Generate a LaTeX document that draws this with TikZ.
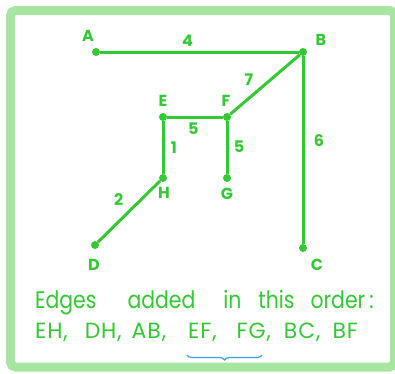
\documentclass[tikz,border=0pt]{standalone}
\usepackage{fontspec}
\setmainfont{Poppins}
\newfontfamily\titlefont[FakeStretch=0.85]{Poppins}
\newfontfamily\listfont[LetterSpace=4]{Poppins}
\usetikzlibrary{decorations.pathreplacing}
\definecolor{mstgreen}{HTML}{33C933}
\definecolor{framegreen}{HTML}{A6E6A0}
\definecolor{braceblue}{HTML}{3A9EE8}
\tikzset{
  vertex/.style={circle, fill=mstgreen, inner sep=0pt, minimum size=8pt},
  vname/.style={font=\bfseries\fontsize{16}{16}\selectfont, text=mstgreen},
  weight/.style={font=\bfseries\fontsize{16}{16}\selectfont, text=mstgreen},
  edge/.style={draw=mstgreen, line width=3pt},
  order/.style={text=mstgreen, anchor=base west, inner sep=0pt}
}
\begin{document}
\begin{tikzpicture}[x=1pt, y=-1pt]
    \useasboundingbox (0,0) rectangle (395,373);
    % Frame
    \begin{scope}
      \clip (0,0) rectangle (395,373);
      \draw[framegreen, line width=9pt, rounded corners=5pt] (10.5,10.5) rectangle (394.5,367);
    \end{scope}
    % Vertices
    \node[vertex] (A) at (96,52) {};
    \node[vertex] (B) at (303,52) {};
    \node[vertex] (E) at (163,117) {};
    \node[vertex] (F) at (227,117) {};
    \node[vertex] (H) at (163,178) {};
    \node[vertex] (G) at (227,178) {};
    \node[vertex] (D) at (95,245) {};
    \node[vertex] (C) at (303,248) {};
    % Vertex names
    \node[vname] (nA) at (88,36) {A};
    \node[vname] (nB) at (321,40) {B};
    \node[vname] (nE) at (163,101) {E};
    \node[vname] (nF) at (226,101) {F};
    \node[vname] (nH) at (164,193) {H};
    \node[vname] (nG) at (227,194) {G};
    \node[vname] (nD) at (94,265) {D};
    \node[vname] (nC) at (317,265) {C};
    % Tree edges with weights
    \draw[edge] (A) -- node[weight, pos=0.44, above=1pt] {4} (B);
    \draw[edge] (B) -- node[weight, pos=0.6, above left=0pt] {7} (F);
    \draw[edge] (E) -- node[weight, pos=0.47, below=1pt] {5} (F);
    \draw[edge] (E) -- node[weight, right=3pt] {1} (H);
    \draw[edge] (F) -- node[weight, pos=0.48, right=2pt] {5} (G);
    \draw[edge] (B) -- node[weight, pos=0.45, right=6pt] {6} (C);
    \draw[edge] (D) -- node[weight, pos=0.5, above left=1pt] {2} (H);
    % Order of edges
    \node[order, font=\titlefont\fontsize{24}{24}\selectfont] (title) at (35,308)
      {Edges\hspace{31pt}added\hspace{28pt}in\hspace{17pt}this\hspace{16pt}order\hspace{4pt}:};
    \node[order, font=\listfont\fontsize{22}{22}\selectfont] (list) at (35,338)
      {EH,\hspace{17pt}DH,\hspace{10pt}AB,\hspace{22pt}EF,\hspace{20pt}FG,\hspace{13pt}BC,\hspace{12pt}BF};
    \coordinate (bl) at (187,355);
    \coordinate (br) at (262,355);
    \draw[braceblue, line width=1.2pt, decorate, decoration={brace, mirror, amplitude=5pt}] (bl) -- (br);
\end{tikzpicture}
\end{document}
